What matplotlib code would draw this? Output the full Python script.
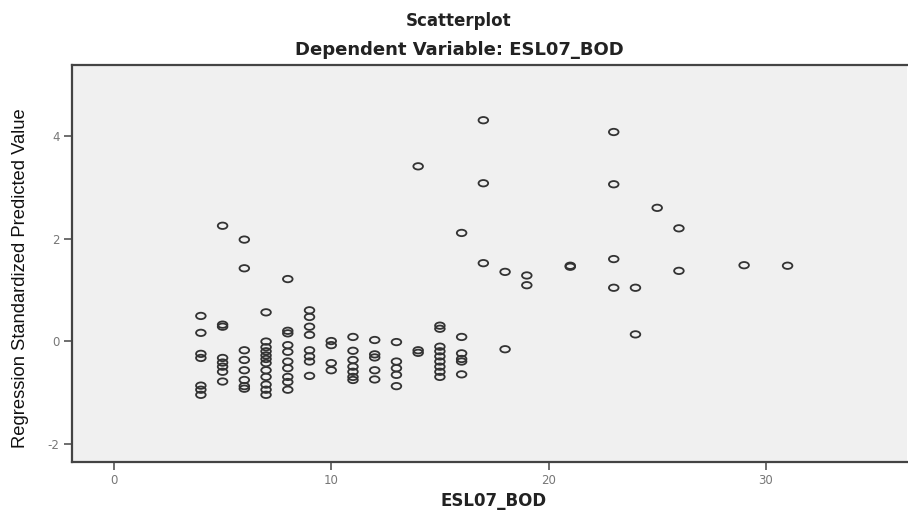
import numpy as np
import matplotlib
matplotlib.use("Agg")
import matplotlib.pyplot as plt
from matplotlib.path import Path
from matplotlib.transforms import Affine2D

# ESL07_BOD values and the regression standardized predicted values
bod = [4, 4, 4, 4, 4, 4, 4,
       5, 5, 5, 5, 5, 5, 5, 5,
       6, 6, 6, 6, 6, 6, 6, 6,
       7, 7, 7, 7, 7, 7, 7, 7, 7, 7, 7, 7,
       8, 8, 8, 8, 8, 8, 8, 8, 8, 8,
       9, 9, 9, 9, 9, 9, 9, 9,
       10, 10, 10, 10,
       11, 11, 11, 11, 11, 11, 11,
       12, 12, 12, 12, 12,
       13, 13, 13, 13, 13,
       14, 14, 14,
       15, 15, 15, 15, 15, 15, 15, 15, 15,
       16, 16, 16, 16, 16, 16,
       17, 17, 17,
       18, 18,
       19, 19,
       21, 21,
       23, 23, 23, 23,
       24, 24,
       25,
       26, 26,
       29,
       31]
pred = [0.49, 0.16, -0.25, -0.33, -0.87, -0.95, -1.05,
        2.25, 0.32, 0.28, -0.33, -0.42, -0.5, -0.6, -0.79,
        1.98, 1.42, -0.18, -0.37, -0.57, -0.76, -0.88, -0.93,
        0.56, -0.01, -0.12, -0.2, -0.28, -0.35, -0.43, -0.57, -0.7, -0.85, -0.95, -1.05,
        1.21, 0.2, 0.15, -0.08, -0.21, -0.4, -0.53, -0.7, -0.8, -0.95,
        0.6, 0.47, 0.28, 0.12, -0.18, -0.3, -0.4, -0.68,
        0.0, -0.08, -0.43, -0.57,
        0.08, -0.19, -0.37, -0.5, -0.6, -0.7, -0.76,
        0.02, -0.26, -0.32, -0.57, -0.75,
        -0.02, -0.4, -0.53, -0.66, -0.88,
        3.41, -0.18, -0.23,
        0.3, 0.24, -0.11, -0.2, -0.3, -0.4, -0.5, -0.6, -0.7,
        2.11, 0.08, -0.24, -0.35, -0.4, -0.65,
        4.31, 3.08, 1.52,
        1.35, -0.16,
        1.28, 1.09,
        1.47, 1.45,
        4.08, 3.06, 1.6, 1.04,
        1.04, 0.13,
        2.6,
        2.2, 1.37,
        1.48,
        1.47]

xticks = [0, 10, 20, 30]
yticks = [-2, 0, 2, 4]

plt.rcParams['font.family'] = ['DejaVu Sans']
plt.rcParams['axes.unicode_minus'] = False

fig = plt.figure(figsize=(9.08, 5.15), dpi=100)
ax = fig.add_axes([0.0793, 0.103, 0.9197, 0.771])
ax.set_facecolor('#f0f0f0')

# flattened circle, like the stretched SPSS marker in the picture
ellipse = Path.unit_circle().transformed(Affine2D().scale(1.5, 1.0))
ax.scatter(bod, pred, marker=ellipse, s=48, facecolors='none',
           edgecolors='#333333', linewidths=1.3, zorder=3)

ax.set_xlim(-1.93, 36.5)
ax.set_ylim(-2.36, 5.39)
ax.set_xticks(xticks)
ax.set_yticks(yticks)
ax.tick_params(direction='out', length=6, width=1.2, colors='#555555',
               labelsize=8.5, labelcolor='#777777', pad=3)

for side in ['left', 'bottom', 'top']:
    ax.spines[side].set_color('#444444')
    ax.spines[side].set_linewidth(1.6)
ax.spines['right'].set_visible(False)

ax.set_xlabel('ESL07_BOD', fontsize=12, fontweight='bold', color='#222222', va='center')
ax.xaxis.set_label_coords(0.5435, 0.027, transform=fig.transFigure)
ax.set_ylabel('Regression Standardized Predicted Value', fontsize=13.2,
              family=['Liberation Sans', 'DejaVu Sans'], color='#111111', va='center')
ax.yaxis.set_label_coords(0.0231, 0.459, transform=fig.transFigure)

fig.text(0.5055, 0.959, 'Scatterplot', ha='center', va='center',
         fontsize=12, fontweight='bold', color='#222222')
fig.text(0.5055, 0.903, 'Dependent Variable: ESL07_BOD', ha='center', va='center',
         fontsize=13, fontweight='bold', color='#222222')

fig.savefig('out.png', dpi=100, facecolor='white')
